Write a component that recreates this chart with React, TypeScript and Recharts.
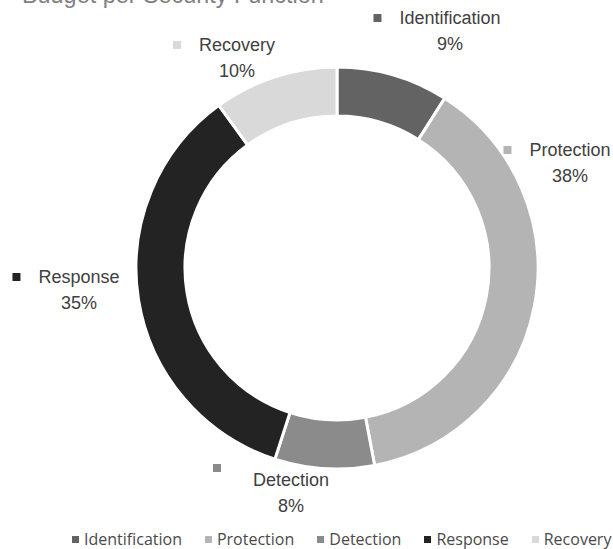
import { Cell, Legend, Pie, PieChart } from 'recharts';

const functions = ['Identification', 'Protection', 'Detection', 'Response', 'Recovery'];
const budgetShare = [9, 38, 8, 35, 10];
const sliceColors = ['#636363', '#b4b4b4', '#8b8b8b', '#232323', '#d9d9d9'];

const budgetData = functions.map((name, i) => ({ name, value: budgetShare[i] }));

const WIDTH = 613;
const HEIGHT = 549;
const CX = 337;
const CY = 268;

const LABEL_FONT = '18px "Liberation Sans", Arial, sans-serif';
const LABEL_COLOR = '#404040';

// label blocks sit where they were dragged to, measured from the donut centre
const labelSpots: Record<string, { dx: number; dy: number; keyDx?: number; keyDy?: number }> = {
  Identification: { dx: 113, dy: -250 },
  Protection: { dx: 233, dy: -118 },
  Detection: { dx: -46, dy: 212, keyDx: -14, keyDy: -12 },
  Response: { dx: -258, dy: 9 },
  Recovery: { dx: -100, dy: -223 },
};

let measureCtx: CanvasRenderingContext2D | null = null;
function textWidth(text: string, font: string): number {
  if (!measureCtx) measureCtx = document.createElement('canvas').getContext('2d');
  if (!measureCtx) return text.length * 9;
  measureCtx.font = font;
  return measureCtx.measureText(text).width;
}

function renderSliceLabel(props: any) {
  const { name, percent } = props;
  const spot = labelSpots[name];
  if (!spot) return null;
  const x = CX + spot.dx;
  const y = CY + spot.dy;
  const color = sliceColors[functions.indexOf(name)];
  const nameLeft = x - textWidth(name, LABEL_FONT) / 2;
  const keyX = nameLeft - 18 - 8 + (spot.keyDx ?? 0);
  const keyY = y - 4 + (spot.keyDy ?? 0);
  const textStyle = { fontFamily: '"Liberation Sans", Arial, sans-serif', fontSize: 18 };
  return (
    <g>
      <rect x={keyX} y={keyY} width={8} height={8} fill={color} />
      <text x={x} y={y} dy="0.35em" textAnchor="middle" fill={LABEL_COLOR} style={textStyle}>
        {name}
      </text>
      <text x={x} y={y + 26} dy="0.35em" textAnchor="middle" fill={LABEL_COLOR} style={textStyle}>
        {`${Math.round(percent * 100)}%`}
      </text>
    </g>
  );
}

function LegendRow({ payload }: any) {
  // keep the legend in series order rather than alphabetical
  const items = [...(payload ?? [])].sort(
    (a: any, b: any) => functions.indexOf(a.value) - functions.indexOf(b.value),
  );
  return (
    <div
      style={{
        display: 'flex',
        justifyContent: 'flex-start',
        paddingLeft: 72,
        gap: 23,
        fontFamily: '"Open Sans", "Noto Sans", sans-serif',
        fontSize: 16,
        lineHeight: '18px',
        color: '#4a4a4a',
        whiteSpace: 'nowrap',
      }}
    >
      {items.map((item: any) => (
        <span key={item.value} style={{ display: 'flex', alignItems: 'center' }}>
          <span style={{ width: 7, height: 7, background: item.color, marginRight: 5 }} />
          {item.value}
        </span>
      ))}
    </div>
  );
}

export default function App() {
  return (
    <div style={{ position: 'relative', width: WIDTH, height: HEIGHT, overflow: 'hidden', background: '#fff' }}>
      <style>{'body{margin:0}'}</style>
      <div
        style={{
          position: 'absolute',
          left: 22,
          top: -15.8,
          fontFamily: '"Liberation Sans", Arial, sans-serif',
          fontSize: 23.4,
          lineHeight: 1,
          color: '#808080',
          whiteSpace: 'nowrap',
        }}
      >
        Budget per Security Function
      </div>
      <PieChart width={WIDTH} height={HEIGHT} margin={{ top: 0, right: 0, bottom: 0, left: 0 }}>
        <Pie
          data={budgetData}
          dataKey="value"
          nameKey="name"
          cx={CX}
          cy={CY}
          innerRadius={152}
          outerRadius={201}
          startAngle={90}
          endAngle={-270}
          stroke="#ffffff"
          strokeWidth={3}
          label={renderSliceLabel}
          labelLine={false}
          isAnimationActive={false}
        >
          {budgetData.map((entry, i) => (
            <Cell key={entry.name} fill={sliceColors[i]} />
          ))}
        </Pie>
        <Legend
          content={LegendRow}
          verticalAlign="bottom"
          wrapperStyle={{ left: 0, top: 530, bottom: 'auto', width: WIDTH, height: 18 }}
        />
      </PieChart>
    </div>
  );
}
